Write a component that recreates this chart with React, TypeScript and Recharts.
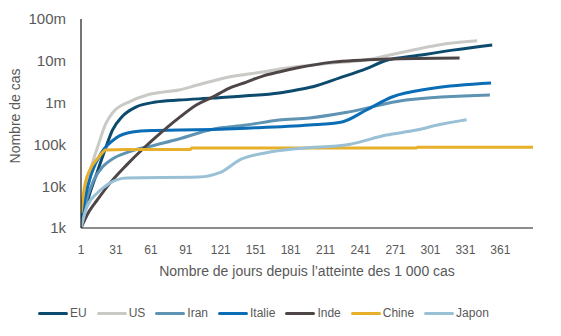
import { LineChart, Line, XAxis, YAxis } from 'recharts'

type Pt = [number, number]

// jours depuis 1 000 cas, nombre cumulé de cas
const euPoints: Pt[] = [[1, 1200], [8, 6000], [15, 22000], [22, 80000], [28, 220000], [36, 455000], [48, 780000], [65, 1030000], [85, 1150000], [114, 1280000], [143, 1450000], [171, 1700000], [186, 2000000], [200, 2400000], [223, 3900000], [246, 6500000], [262, 10000000], [291, 13500000], [320, 18000000], [354, 24000000]]
const usPoints: Pt[] = [[1, 1300], [5, 8000], [10, 30000], [16, 100000], [22, 300000], [28, 565000], [42, 1030000], [57, 1500000], [71, 1780000], [85, 2000000], [100, 2600000], [128, 4100000], [157, 5400000], [182, 7000000], [217, 8900000], [246, 10500000], [274, 15400000], [308, 24000000], [341, 30000000]]
const iranPoints: Pt[] = [[1, 1000], [4, 3000], [12, 14000], [20, 30000], [28, 45000], [42, 66000], [65, 97000], [85, 135000], [114, 230000], [143, 290000], [171, 384000], [197, 430000], [231, 600000], [280, 1150000], [352, 1520000]]
const italiePoints: Pt[] = [[1, 1200], [5, 6000], [10, 20000], [19, 66000], [31, 142000], [45, 198000], [62, 215000], [85, 220000], [143, 245000], [197, 290000], [225, 345000], [246, 665000], [268, 1360000], [303, 2200000], [353, 2950000]]
const indePoints: Pt[] = [[1, 1000], [8, 2500], [15, 4700], [26, 12000], [40, 32000], [55, 82000], [66, 155000], [85, 430000], [100, 875000], [114, 1350000], [128, 2200000], [143, 3100000], [157, 4300000], [171, 5400000], [186, 6700000], [217, 9300000], [263, 11000000], [326, 11700000]]
const chinePoints: Pt[] = [[1, 2300], [4, 9600], [10, 29000], [15, 45000], [19, 62000], [22, 73000], [40, 75000], [95, 76000], [96, 82000], [289, 82000], [290, 86000], [389, 86000]]
const japonPoints: Pt[] = [[1, 1000], [6, 3200], [15, 6900], [21, 9600], [26, 12000], [40, 15700], [102, 16500], [120, 21000], [139, 45000], [160, 63000], [188, 80000], [231, 100000], [263, 167000], [289, 220000], [309, 300000], [332, 390000]]

const xTicks = [1, 31, 61, 91, 121, 151, 181, 211, 241, 271, 301, 331, 361]
const yTicks = [1000, 10000, 100000, 1000000, 10000000, 100000000]
const yLabels = ['1k', '10k', '100k', '1m', '10m', '100m']

const series = [
  { name: 'EU', color: '#0d4b6e', points: euPoints },
  { name: 'US', color: '#c9c9c5', points: usPoints },
  { name: 'Iran', color: '#5e93b3', points: iranPoints },
  { name: 'Italie', color: '#0b6db5', points: italiePoints },
  { name: 'Inde', color: '#4d4546', points: indePoints },
  { name: 'Chine', color: '#e6b02a', points: chinePoints },
  { name: 'Japon', color: '#99c0d5', points: japonPoints },
]

const font = '"Liberation Sans", Arial, sans-serif'
const grey = '#595959'

export default function App() {
  return (
    <div style={{ position: 'absolute', left: 0, top: 0, width: 561, height: 336, background: '#fff', fontFamily: font }}>
      <LineChart width={561} height={336} margin={{ top: 19, right: 28, left: 21, bottom: 78 }}>
        <XAxis
          type="number"
          dataKey="d"
          domain={[1, 389]}
          ticks={xTicks}
          allowDataOverflow
          height={30}
          tickLine={false}
          tickMargin={11}
          axisLine={{ stroke: '#1a1a1a', strokeWidth: 1.2 }}
          tick={{ fill: grey, fontSize: 12, fontFamily: font }}
          label={{
            value: 'Nombre de jours depuis l’atteinte des 1 000 cas',
            position: 'bottom',
            offset: 8,
            fill: grey,
            fontSize: 14,
            fontFamily: font,
          }}
        />
        <YAxis
          dataKey="v"
          scale="log"
          domain={[1000, 100000000]}
          ticks={yTicks}
          allowDataOverflow
          width={60}
          tickLine={false}
          tickMargin={9}
          axisLine={{ stroke: '#1a1a1a', strokeWidth: 1.2 }}
          tick={{ fill: grey, fontSize: 15, fontFamily: font }}
          tickFormatter={(v: number) => yLabels[yTicks.indexOf(v)] ?? ''}
          label={{
            content: () => (
              <text
                x={15}
                y={116}
                transform="rotate(-90 15 116)"
                textAnchor="middle"
                dominantBaseline="central"
                fill={grey}
                fontSize={14}
                fontFamily={font}
              >
                Nombre de cas
              </text>
            ),
          }}
        />
        {series.map((s) => (
          <Line
            key={s.name}
            name={s.name}
            data={s.points.map(([d, v]) => ({ d, v }))}
            dataKey="v"
            type="monotone"
            stroke={s.color}
            strokeWidth={3}
            dot={false}
            isAnimationActive={false}
          />
        ))}
      </LineChart>
      <div style={{ position: 'absolute', left: 38, top: 305, height: 16, display: 'flex', alignItems: 'center', fontSize: 12, color: grey }}>
        {series.map((s) => (
          <div key={s.name} style={{ display: 'flex', alignItems: 'center', marginRight: 10 }}>
            <span style={{ display: 'inline-block', width: 30, height: 3, borderRadius: 2, background: s.color, marginRight: 2 }} />
            <span>{s.name}</span>
          </div>
        ))}
      </div>
    </div>
  )
}
